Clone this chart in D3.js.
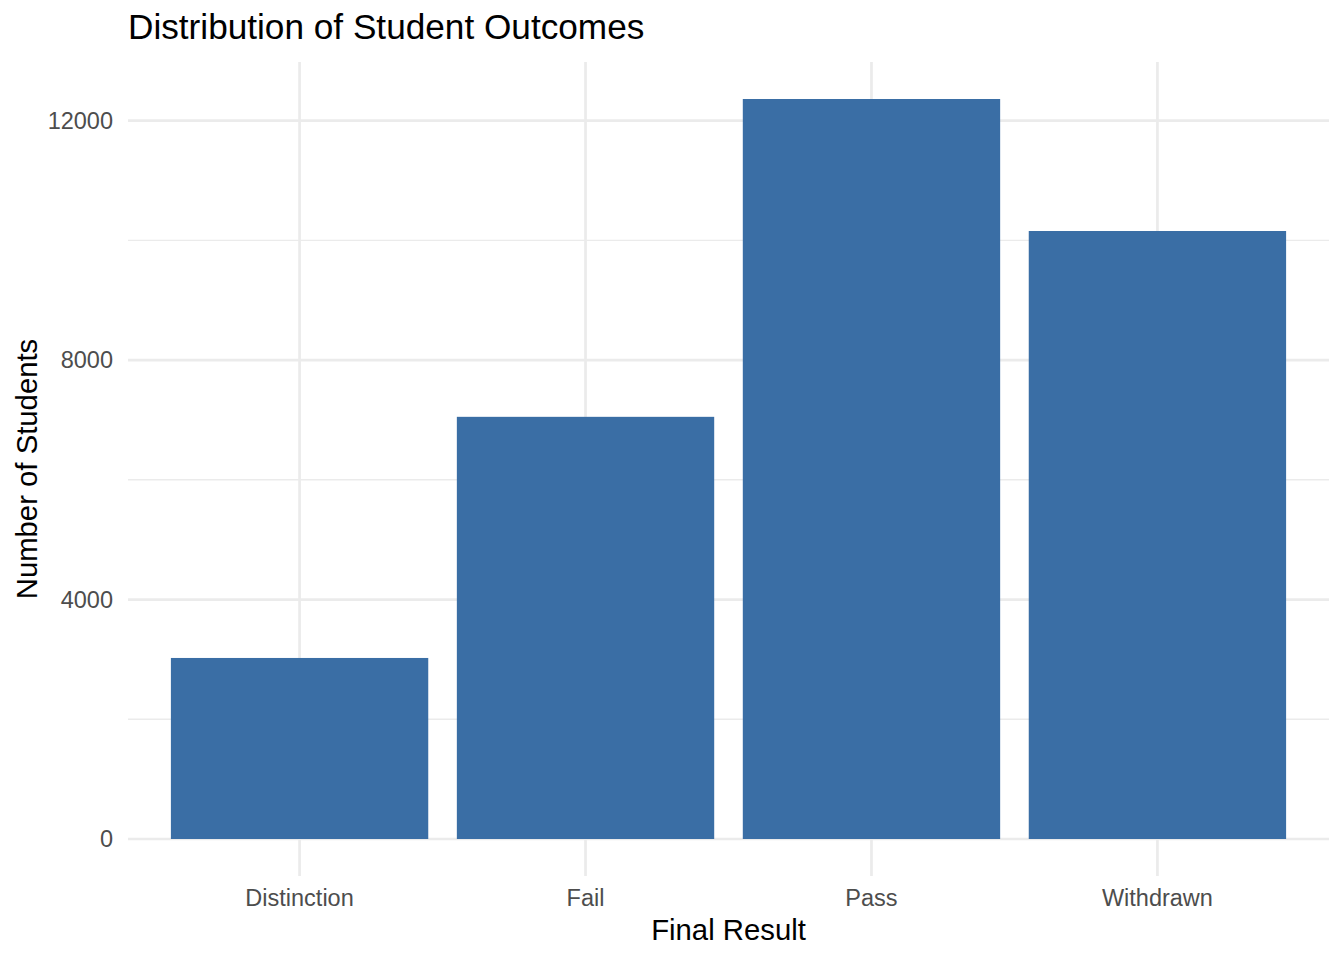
<!DOCTYPE html>
<html><head><meta charset="utf-8">
<script src="https://cdn.jsdelivr.net/npm/d3@7"></script>
<style>body{margin:0;background:#fff}svg{display:block}text{font-family:"Liberation Sans",Arial,Helvetica,sans-serif}</style>
</head><body>
<script>
const categories = ["Distinction","Fail","Pass","Withdrawn"];
const counts = [3024, 7052, 12361, 10156];
const yTicks = [0, 4000, 8000, 12000];
const yMinor = [2000, 6000, 10000];
const title = "Distribution of Student Outcomes";
const xTitle = "Final Result";
const yTitle = "Number of Students";

const W = 1344, H = 960;
const m = {left:128, right:15, top:62, bottom:84};
const svg = d3.select("body").append("svg").attr("width",W).attr("height",H);

const maxV = d3.max(counts);
const y = d3.scaleLinear().domain([-0.05*maxV, 1.05*maxV]).range([H-m.bottom, m.top]);
const n = categories.length;
const xc = d3.scalePoint().domain(categories).range([0,1]);
const step = (W-m.left-m.right)/(n-1+1.2);
const xPos = d => m.left + step*0.6 + categories.indexOf(d)*step;
const bw = step*0.9;

const grid = svg.append("g");
grid.selectAll("line.minor").data(yMinor).join("line")
  .attr("x1",m.left).attr("x2",W-m.right).attr("y1",d=>y(d)).attr("y2",d=>y(d))
  .attr("stroke","#EBEBEB").attr("stroke-width",1.4);
grid.selectAll("line.major").data(yTicks).join("line")
  .attr("x1",m.left).attr("x2",W-m.right).attr("y1",d=>y(d)).attr("y2",d=>y(d))
  .attr("stroke","#EBEBEB").attr("stroke-width",2.7);
grid.selectAll("line.vx").data(categories).join("line")
  .attr("x1",d=>xPos(d)).attr("x2",d=>xPos(d)).attr("y1",m.top).attr("y2",H-m.bottom)
  .attr("stroke","#EBEBEB").attr("stroke-width",2.7);

svg.selectAll("rect.bar").data(categories).join("rect")
  .attr("x",d=>xPos(d)-bw/2).attr("width",bw)
  .attr("y",(d,i)=>y(counts[i])).attr("height",(d,i)=>y(0)-y(counts[i]))
  .attr("fill","#3A6EA5");

svg.selectAll("text.yt").data(yTicks).join("text")
  .attr("x",113).attr("y",d=>y(d)).attr("dy","0.35em").attr("text-anchor","end")
  .attr("font-size",23.5).attr("fill","#4D4D4D").text(d=>d);
svg.selectAll("text.xt").data(categories).join("text")
  .attr("x",d=>xPos(d)).attr("y",906).attr("text-anchor","middle")
  .attr("font-size",23.5).attr("fill","#4D4D4D").text(d=>d);

svg.append("text").attr("x",128).attr("y",39).attr("font-size",35.2).attr("fill","#000").text(title);
svg.append("text").attr("x",(m.left+W-m.right)/2).attr("y",940).attr("text-anchor","middle")
  .attr("font-size",29.3).attr("fill","#000").text(xTitle);
svg.append("text").attr("transform",`translate(37,${(m.top+H-m.bottom)/2}) rotate(-90)`)
  .attr("text-anchor","middle").attr("font-size",29.3).attr("fill","#000").text(yTitle);
</script>
</body></html>
